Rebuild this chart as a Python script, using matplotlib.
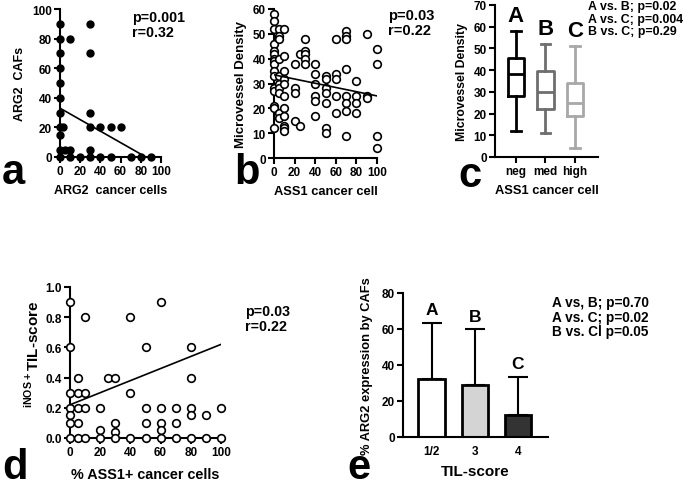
import matplotlib
matplotlib.use("Agg")
import matplotlib.pyplot as plt
import numpy as np

plt.rcParams['font.family'] = ['Liberation Sans', 'DejaVu Sans']
plt.rcParams['font.weight'] = 'bold'
plt.rcParams['axes.labelweight'] = 'bold'
plt.rcParams['mathtext.fontset'] = 'custom'
plt.rcParams['mathtext.rm'] = 'Liberation Sans:bold'
plt.rcParams['mathtext.bf'] = 'Liberation Sans:bold'

# ---------------- data ----------------
# panel a: ARG2 cancer cells vs ARG2 CAFs
a_x = [0, 0, 0, 0, 0, 0, 0, 0, 0, 0, 0, 3, 5, 10, 10, 10, 20,
       30, 30, 30, 30, 30, 30, 40, 40, 50, 50, 60, 70, 80, 90]
a_y = [90, 80, 70, 60, 50, 40, 30, 20, 15, 5, 0, 20, 5, 80, 5, 0, 0,
       90, 70, 30, 20, 5, 0, 20, 0, 20, 0, 20, 0, 0, 0]
a_fit_x = [0, 85]
a_fit_y = [33, 0]

# panel b: ASS1 cancer cell vs microvessel density
b_x = ([0] * 16 + [5] * 10 + [10] * 11 + [20] * 4 + [25] * 2 + [30] * 5 +
       [40] * 6 + [50] * 7 + [60] * 5 + [70] * 8 + [80] * 4 + [90] * 3 + [100] * 4)
b_y = ([58, 55, 52, 46, 43, 42, 40, 39, 38, 35, 33, 28, 27, 21, 20, 12] +
       [52, 49, 48, 40, 33, 30, 28, 26, 18, 16] +
       [52, 41, 35, 32, 30, 25, 20, 17, 13, 12, 11] +
       [38, 28, 26, 15] +
       [42, 13] +
       [48, 43, 42, 40, 38] +
       [38, 34, 30, 25, 23, 17] +
       [33, 32, 28, 26, 22, 12, 10] +
       [48, 34, 32, 25, 18] +
       [51, 49, 48, 36, 25, 22, 19, 9] +
       [31, 25, 22, 18] +
       [50, 25, 24] +
       [44, 38, 9, 4])
b_fit_x = [0, 100]
b_fit_y = [33.5, 25]

# panel c: box plot summary (whisker low, q1, median, q3, whisker high)
c_cats = ['neg', 'med', 'high']
c_whislo = [12, 11, 4]
c_q1 = [28, 22, 19]
c_med = [38, 30, 25]
c_q3 = [45.5, 39.5, 34]
c_whishi = [58, 52, 51]
c_letters = ['A', 'B', 'C']
c_colors = ['#000000', '#6e6e6e', '#a8a8a8']

# panel d: % ASS1+ cancer cells vs iNOS+ TIL-score
d_x = ([0] * 7 + [5] * 5 + [10] * 4 + [20] * 3 + [25] + [30] * 4 + [40] * 3 +
       [50] * 4 + [60] * 5 + [70] * 3 + [80] * 5 + [90] * 2 + [100] * 2)
d_y = ([0.9, 0.6, 0.3, 0.2, 0.15, 0.1, 0] +
       [0.4, 0.3, 0.2, 0.1, 0] +
       [0.8, 0.3, 0.2, 0] +
       [0.2, 0.05, 0] +
       [0.4] +
       [0.4, 0.1, 0.04, 0] +
       [0.8, 0.3, 0] +
       [0.6, 0.2, 0.1, 0] +
       [0.9, 0.2, 0.1, 0.05, 0] +
       [0.2, 0.1, 0] +
       [0.6, 0.4, 0.2, 0.15, 0] +
       [0.15, 0] +
       [0.2, 0])
d_fit_x = [0, 100]
d_fit_y = [0.22, 0.62]

# panel e: bars
e_cats = ['1/2', '3', '4']
e_means = [32, 29, 12.5]
e_sd = [31.5, 31, 21]
e_letters = ['A', 'B', 'C']
e_colors = ['#ffffff', '#d4d4d4', '#333333']

# ---------------- figure ----------------
W, H = 685, 489
fig = plt.figure(figsize=(W / 100, H / 100), dpi=100)


def ax_px(x0, x1, y0, y1):
    return fig.add_axes([x0 / W, 1 - y1 / H, (x1 - x0) / W, (y1 - y0) / H])


def ftext(x, y, s, **kw):
    return fig.text(x / W, 1 - y / H, s, **kw)


def style(ax):
    for s in ['top', 'right']:
        ax.spines[s].set_visible(False)
    for s in ['left', 'bottom']:
        ax.spines[s].set_linewidth(1.5)
    ax.tick_params(width=1.5, length=4, labelsize=8.5, pad=2)
    for lab in ax.get_xticklabels() + ax.get_yticklabels():
        lab.set_fontweight('bold')


# panel a
ax = ax_px(60, 161, 10, 158)
ax.plot(a_x, a_y, 'o', color='black', ms=5, clip_on=False, zorder=3)
ax.plot(a_fit_x, a_fit_y, color='black', lw=1.2)
ax.set_xlim(0, 100)
ax.set_ylim(0, 100)
ax.set_xticks(range(0, 101, 20))
ax.set_yticks(range(0, 101, 20))
style(ax)
ax.set_xlabel('ARG2  cancer cells', fontsize=9, labelpad=5)
ax.set_ylabel('ARG2  CAFs', fontsize=9, labelpad=4)
ftext(132, 11, 'p=0.001\nr=0.32', fontsize=10.3, fontweight='bold',
      va='top', ha='left', linespacing=1.05)

# panel b
ax = ax_px(274, 377, 10, 159)
ax.plot(b_x, b_y, 'o', mfc='white', mec='black', ms=5.5, mew=1.2, clip_on=False, zorder=3)
ax.plot(b_fit_x, b_fit_y, color='black', lw=1.2, zorder=4)
ax.set_xlim(0, 100)
ax.set_ylim(0, 60)
ax.set_xticks(range(0, 101, 20))
ax.set_yticks(range(0, 61, 10))
style(ax)
ax.set_xlabel('ASS1 cancer cell', fontsize=9.3, labelpad=5)
ax.set_ylabel('Microvessel Density', fontsize=9.5, labelpad=4)
ftext(388, 9, 'p=0.03\nr=0.22', fontsize=10.5, fontweight='bold',
      va='top', ha='left', linespacing=1.05)

# panel c
ax = ax_px(495, 598, 6, 158)
pos = np.arange(len(c_cats))
for i in range(len(c_cats)):
    col = c_colors[i]
    st = dict(whislo=c_whislo[i], q1=c_q1[i], med=c_med[i], q3=c_q3[i],
              whishi=c_whishi[i], fliers=[])
    ax.bxp([st], positions=[pos[i]], widths=0.56, showfliers=False,
           boxprops=dict(color=col, lw=2), whiskerprops=dict(color=col, lw=2),
           capprops=dict(color=col, lw=2), medianprops=dict(color=col, lw=2),
           capwidths=0.32)
    ax.text(pos[i], c_whishi[i] + 2.5, c_letters[i], ha='center', va='bottom',
            fontsize=16, fontweight='bold')
ax.set_xlim(-0.71, 2.78)
ax.set_ylim(0, 70)
ax.set_xticks(pos)
ax.set_xticklabels(c_cats)
ax.set_yticks(range(0, 71, 10))
style(ax)
ax.set_xlabel('ASS1 cancer cell', fontsize=9.3, labelpad=5)
ax.set_ylabel('Microvessel Density', fontsize=8.8, labelpad=4)
ftext(588, 1, 'A vs. B; p=0.02\nA vs. C; p=0.004\nB vs. C; p=0.29',
      fontsize=8.9, fontweight='bold', va='top', ha='left', linespacing=1.08)

# panel d
ax = ax_px(70, 221, 288, 439)
ax.plot(d_x, d_y, 'o', mfc='white', mec='black', ms=5.5, mew=1.2, clip_on=False, zorder=3)
ax.plot(d_fit_x, d_fit_y, color='black', lw=1.2, zorder=4)
ax.set_xlim(0, 100)
ax.set_ylim(0, 1.0)
ax.set_xticks(range(0, 101, 20))
ax.set_yticks(np.arange(0, 1.01, 0.2))
ax.set_yticklabels(['0.0', '0.2', '0.4', '0.6', '0.8', '1.0'])
style(ax)
ax.set_xlabel('% ASS1+ cancer cells', fontsize=10.4, labelpad=6)
ax.set_ylabel(r'$^{\mathbf{iNOS+}}$TIL-score', fontsize=11, labelpad=4)
ax.yaxis.set_label_coords(-0.19, 0.56)
ftext(245, 305, 'p=0.03\nr=0.22', fontsize=10.3, fontweight='bold',
      va='top', ha='left', linespacing=1.05)

# panel e
ax = ax_px(403, 548, 294, 438)
pos = np.arange(len(e_cats))
ax.bar(pos, e_means, width=0.62, color=e_colors, edgecolor='black', lw=2, zorder=2)
ax.errorbar(pos, e_means, yerr=[np.zeros(len(e_sd)), e_sd], fmt='none',
            ecolor='black', elinewidth=1.5, capsize=7, capthick=1.5, zorder=1)
for i in range(len(e_cats)):
    ax.text(pos[i], e_means[i] + e_sd[i] + 3, e_letters[i], ha='center', va='bottom',
            fontsize=12.5, fontweight='bold')
ax.set_xlim(-0.67, 2.7)
ax.set_ylim(0, 80)
ax.set_xticks(pos)
ax.set_xticklabels(e_cats)
ax.set_yticks(range(0, 81, 20))
style(ax)
ax.tick_params(axis='x', length=0, pad=6)
ax.set_xlabel('TIL-score', fontsize=11, labelpad=5)
ax.set_ylabel('% ARG2 expression by CAFs', fontsize=9.3, labelpad=6)
ftext(552, 296, 'A vs, B; p=0.70\nA vs. C; p=0.02\nB vs. Cl p=0.05',
      fontsize=9.8, fontweight='bold', va='top', ha='left', linespacing=1.05)

# panel letters
for lab, (x, y) in zip('abcde', [(2, 193), (234, 193), (458, 196), (2, 488), (347, 488)]):
    ftext(x, y, lab, fontsize=30, fontweight='bold', ha='left', va='bottom')

fig.savefig('out.png', dpi=100)
